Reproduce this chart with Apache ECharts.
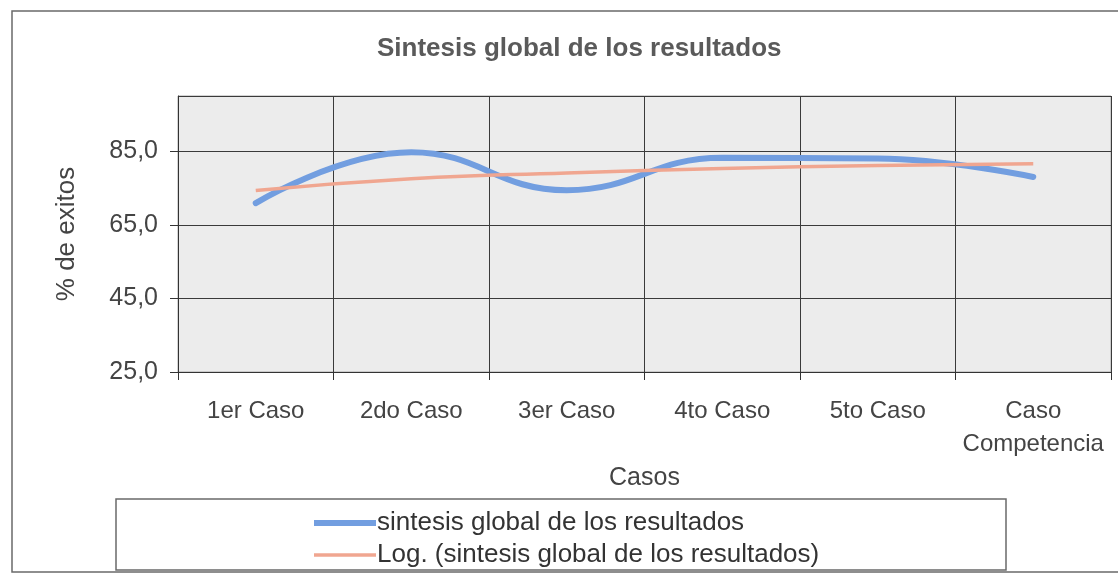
<!DOCTYPE html>
<html>
<head>
<meta charset="utf-8">
<script src="https://cdn.jsdelivr.net/npm/echarts@6/dist/echarts.min.js"></script>
<style>
html,body{margin:0;padding:0;background:#fff;}
#chart{width:1118px;height:574px;}
</style>
</head>
<body>
<div id="chart"></div>
<script>
const titleText = 'Sintesis global de los resultados';
const categories = ['1er Caso', '2do Caso', '3er Caso', '4to Caso', '5to Caso', 'Caso Competencia'];
const seriesNames = ['sintesis global de los resultados', 'Log. (sintesis global de los resultados)'];
const sintesisValues = [70.9, 84.7, 74.4, 83.2, 83.0, 78.0];
const logTrendValues = [74.3, 77.5, 79.1, 80.3, 81.1, 81.6];
const yTicks = [25, 45, 65, 85];
const yAxisName = '% de exitos';
const xAxisName = 'Casos';

const chart = echarts.init(document.getElementById('chart'), null, {renderer: 'canvas'});
const font = 'Liberation Sans, Arial, sans-serif';
const legendText = {fontFamily: font, fontSize: 26, color: '#333', padding: [0, 0, 0, -4]};
chart.setOption({
  animation: false,
  backgroundColor: '#ffffff',
  title: {
    text: titleText,
    left: 372,
    top: 31,
    textStyle: {fontFamily: font, fontSize: 26, fontWeight: 'bold', color: '#5a5a5a'}
  },
  graphic: [
    {type: 'rect', z: -1, shape: {x: 12, y: 11, width: 1130, height: 561},
     style: {fill: 'none', stroke: '#6a6a6a', lineWidth: 1.5}},
    {type: 'rect', z: 1, shape: {x: 116, y: 499, width: 890, height: 71},
     style: {fill: '#fff', stroke: '#6a6a6a', lineWidth: 1.5}}
  ],
  legend: [
    {
      left: 309, top: 505, z: 5,
      icon: 'rect', itemWidth: 62, itemHeight: 6,
      data: [seriesNames[0]],
      textStyle: legendText
    },
    {
      left: 309, top: 537, z: 5,
      icon: 'rect', itemWidth: 62, itemHeight: 3.5,
      data: [seriesNames[1]],
      textStyle: legendText
    }
  ],
  grid: {
    left: 178, right: 7, top: 96, bottom: 202,
    show: true, backgroundColor: '#ececec', borderColor: '#a8a8a8', borderWidth: 1
  },
  xAxis: {
    type: 'category',
    data: categories,
    boundaryGap: true,
    name: xAxisName,
    nameLocation: 'middle',
    nameGap: 94,
    nameTextStyle: {fontFamily: font, fontSize: 25, color: '#444'},
    axisLine: {lineStyle: {color: '#333', width: 1}},
    axisTick: {show: true, length: 8, lineStyle: {color: '#333'}},
    splitLine: {show: true, lineStyle: {color: '#3a3a3a', width: 1}},
    axisLabel: {
      fontFamily: font, fontSize: 24, color: '#444', margin: 23, lineHeight: 33,
      interval: 0,
      formatter: v => v.length > 10 ? v.replace(' ', '\n') : v
    }
  },
  yAxis: {
    type: 'value',
    min: 25,
    max: 100,
    interval: 20,
    name: yAxisName,
    nameLocation: 'middle',
    nameGap: 98,
    nameTextStyle: {fontFamily: font, fontSize: 26, color: '#444'},
    axisLine: {show: true, lineStyle: {color: '#333', width: 1}},
    axisTick: {show: true, length: 8, lineStyle: {color: '#333'}},
    splitLine: {show: true, lineStyle: {color: '#3a3a3a', width: 1}},
    axisLabel: {
      fontFamily: font, fontSize: 25, color: '#444', margin: 20,
      showMaxLabel: false,
      formatter: v => yTicks.indexOf(v) >= 0 ? v.toFixed(1).replace('.', ',') : ''
    }
  },
  series: [
    {
      name: seriesNames[0], type: 'line', data: sintesisValues,
      smooth: 0.45, symbol: 'none', z: 3,
      lineStyle: {color: '#729ee0', width: 6, cap: 'round'},
      itemStyle: {color: '#729ee0'}
    },
    {
      name: seriesNames[1], type: 'line', data: logTrendValues,
      smooth: true, symbol: 'none', z: 4,
      lineStyle: {color: '#f0a690', width: 3.5},
      itemStyle: {color: '#f0a690'}
    }
  ]
});
</script>
</body>
</html>
